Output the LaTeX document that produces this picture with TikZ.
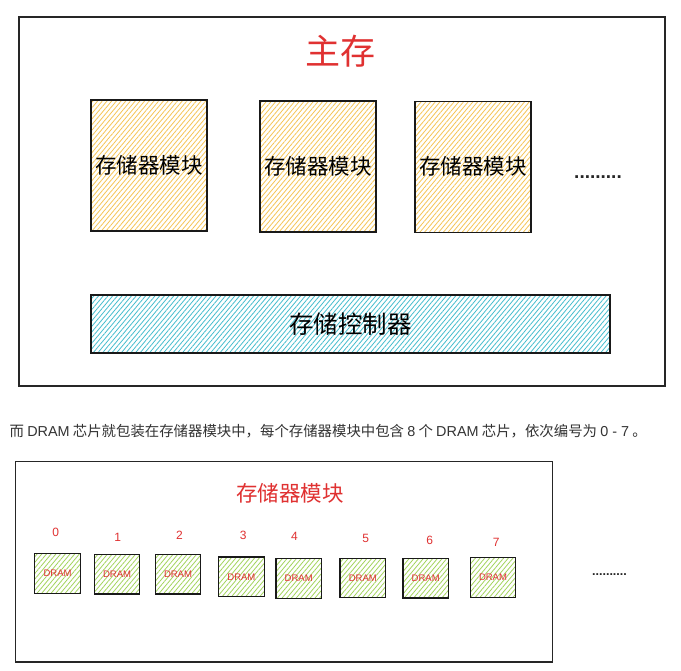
\documentclass[tikz,border=0pt]{standalone}
\usepackage{fontspec}
\setmainfont{Noto Sans CJK SC}
\newfontfamily\cjkf{Noto Sans CJK SC}
\newfontfamily\arialf{Liberation Sans}
\newcommand{\lat}[1]{{\arialf #1}}
\usetikzlibrary{patterns.meta}
\definecolor{exred}{HTML}{E03131}
\definecolor{hyel}{HTML}{F6C454}
\definecolor{hcyan}{HTML}{45BDCE}
\definecolor{hgreen}{HTML}{A3D45C}
\definecolor{txtgray}{HTML}{333333}
\begin{document}
\begin{tikzpicture}[x=1pt,y=-1pt,
  frame/.style={draw=black!85, line width=1.3pt, inner sep=0pt, outer sep=0pt},
  hatchbox/.style={draw=black!90, line width=1.2pt, inner sep=0pt, outer sep=0pt,
    pattern={Lines[angle=50,distance=3.6pt,line width=0.8pt]}},
  modbox/.style={hatchbox, pattern color=hyel, minimum width=116pt, minimum height=131pt,
    font=\cjkf\fontsize{21.5}{23}\selectfont},
  ctrlbox/.style={hatchbox, pattern color=hcyan, minimum width=519pt, minimum height=58pt,
    font=\cjkf\fontsize{24.5}{26}\selectfont},
  drambox/.style={hatchbox, pattern color=hgreen, minimum width=45.5pt, minimum height=39.5pt,
    text=exred, font=\arialf\fontsize{9.5}{10}\selectfont},
  numlbl/.style={text=exred, inner sep=0pt, font=\arialf\fontsize{12}{12}\selectfont},
  redtitle/.style={text=exred, inner sep=0pt, font=\cjkf\fontsize{#1}{#1}\selectfont},
  dotsl/.style={inner sep=0pt, text=black!85, font=\arialf\bfseries\fontsize{#1}{#1}\selectfont},
  sentence/.style={inner sep=0pt, anchor=west, text=txtgray, font=\cjkf\fontsize{14.4}{16}\selectfont}
]
\useasboundingbox (0,0) rectangle (681,671);
\fill[white] (0,0) rectangle (681,671);

% ---- main memory ----
\node[frame, minimum width=646pt, minimum height=369pt] (main) at (342,201.5) {};
\node[redtitle=35] (mtitle) at (340,51) {主存};
\node[modbox] (m1) at (149,165.5) {\raisebox{3pt}{存储器模块}};
\node[modbox] (m2) at (318,166.5) {\raisebox{3pt}{存储器模块}};
\node[modbox] (m3) at (473,167) {\raisebox{3pt}{存储器模块}};
\node[dotsl=19] (tdots) at (598,177) {.........};
\node[ctrlbox] (ctrl) at (350.5,324) {\raisebox{2pt}{存储控制器}};

% ---- sentence ----
\node[sentence] (sent) at (9.5,431) {而 \lat{DRAM} 芯片就包装在存储器模块中，每个存储器模块中包含 \lat{8} 个 \lat{DRAM} 芯片，依次编号为 \lat{0 - 7} 。};

% ---- memory module ----
\node[frame, minimum width=537pt, minimum height=200.3pt] (mod) at (284.2,561.85) {};
\node[redtitle=21.5] (modtitle) at (290,493) {存储器模块};

\node[drambox] (d0) at (57.6,573.5) {DRAM};
\node[drambox] (d1) at (117.1,574.3) {DRAM};
\node[drambox] (d2) at (178.0,574.2) {DRAM};
\node[drambox] (d3) at (241.4,576.8) {DRAM};
\node[drambox] (d4) at (298.7,578.4) {DRAM};
\node[drambox] (d5) at (362.8,578.1) {DRAM};
\node[drambox] (d6) at (425.7,578.3) {DRAM};
\node[drambox] (d7) at (493.0,577.4) {DRAM};

\node[numlbl] (n0) at (55.6,532.6) {0};
\node[numlbl] (n1) at (117.7,537.6) {1};
\node[numlbl] (n2) at (179.4,534.9) {2};
\node[numlbl] (n3) at (243.2,535.6) {3};
\node[numlbl] (n4) at (294.4,536.6) {4};
\node[numlbl] (n5) at (365.6,538.6) {5};
\node[numlbl] (n6) at (429.8,540.6) {6};
\node[numlbl] (n7) at (496.3,541.9) {7};

\node[dotsl=12.5] (bdots) at (609.5,575) {..........};
\end{tikzpicture}
\end{document}
